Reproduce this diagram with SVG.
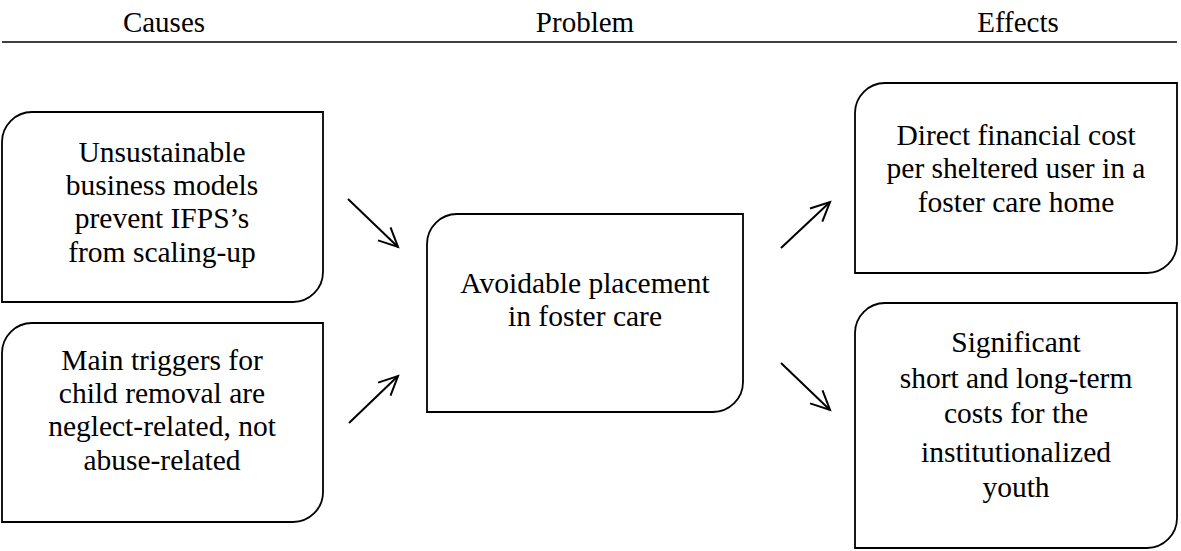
<svg xmlns="http://www.w3.org/2000/svg" width="1181" height="551" viewBox="0 0 1181 551">
<style>
.box{fill:#fff;stroke:#000;stroke-width:1.8}
.t{font-family:"Liberation Serif","Times New Roman",serif;font-size:29.5px;fill:#000;text-anchor:middle}
.h{font-family:"Liberation Serif","Times New Roman",serif;font-size:29px;fill:#000;text-anchor:middle}
.arr{fill:none;stroke:#000;stroke-width:2;marker-end:url(#ah)}
</style>
<defs>
<marker id="ah" markerUnits="userSpaceOnUse" markerWidth="26" markerHeight="26" refX="20" refY="10" viewBox="0 0 26 20" orient="auto">
<path d="M1,1 L20,10 L1,19" fill="none" stroke="#000" stroke-width="2"/>
</marker>
</defs>
<rect width="1181" height="551" fill="#fff"/>
<g id="header">
<text class="h" x="164" y="32">Causes</text>
<text class="h" x="585" y="32">Problem</text>
<text class="h" x="1018" y="32">Effects</text>
<line x1="2" y1="42" x2="1177" y2="42" stroke="#000" stroke-width="1.6"/>
</g>
<g id="cause1">
<path class="box" d="M32,112 H323 V272 A30,30 0 0 1 293,302 H2 V142 A30,30 0 0 1 32,112 Z"/>
<text class="t" x="162" y="162">Unsustainable</text>
<text class="t" x="162" y="195">business models</text>
<text class="t" x="162" y="228">prevent IFPS’s</text>
<text class="t" x="162" y="262">from scaling-up</text>
</g>
<g id="cause2">
<path class="box" d="M32,323 H323 V492 A30,30 0 0 1 293,522 H2 V353 A30,30 0 0 1 32,323 Z"/>
<text class="t" x="162" y="370">Main triggers for</text>
<text class="t" x="162" y="403">child removal are</text>
<text class="t" x="162" y="436">neglect-related, not</text>
<text class="t" x="162" y="470">abuse-related</text>
</g>
<g id="problem">
<path class="box" d="M457,214 H743 V382 A30,30 0 0 1 713,412 H427 V244 A30,30 0 0 1 457,214 Z"/>
<text class="t" x="585" y="293">Avoidable placement</text>
<text class="t" x="585" y="326">in foster care</text>
</g>
<g id="effect1">
<path class="box" d="M885,83 H1177 V243 A30,30 0 0 1 1147,273 H855 V113 A30,30 0 0 1 885,83 Z"/>
<text class="t" x="1016" y="145">Direct financial cost</text>
<text class="t" x="1016" y="178">per sheltered user in a</text>
<text class="t" x="1016" y="212">foster care home</text>
</g>
<g id="effect2">
<path class="box" d="M885,303 H1177 V518 A30,30 0 0 1 1147,548 H855 V333 A30,30 0 0 1 885,303 Z"/>
<text class="t" x="1016" y="352">Significant</text>
<text class="t" x="1016" y="388">short and long-term</text>
<text class="t" x="1016" y="423">costs for the</text>
<text class="t" x="1016" y="462">institutionalized</text>
<text class="t" x="1016" y="497">youth</text>
</g>
<g id="connectors">
<line class="arr" x1="348" y1="199" x2="398" y2="247"/>
<line class="arr" x1="349" y1="423" x2="398" y2="376"/>
<line class="arr" x1="781" y1="248" x2="830" y2="202"/>
<line class="arr" x1="781" y1="363" x2="830" y2="410"/>
</g>
</svg>
